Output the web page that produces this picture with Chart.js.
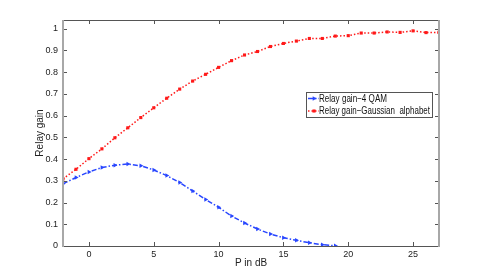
<!DOCTYPE html>
<html>
<head>
<meta charset="utf-8">
<script src="https://cdn.jsdelivr.net/npm/chart.js@4/dist/chart.umd.min.js"></script>
<style>
  body { margin: 0; background: #fff; }
  canvas { display: block; }
</style>
</head>
<body>
<canvas id="relayChart" width="485" height="277"></canvas>
<script>
// P in dB (x positions of the samples)
const pValues = [-2, -1, 0, 1, 2, 3, 4, 5, 6, 7, 8, 9, 10, 11, 12, 13, 14, 15, 16, 17, 18, 19, 20, 21, 22, 23, 24, 25, 26, 27];
// relay gain, 4 QAM (from -2 to 19 dB)
const qamGain = [0.286, 0.315, 0.341, 0.361, 0.372, 0.377, 0.369, 0.350, 0.324, 0.292, 0.253, 0.214, 0.178, 0.138, 0.106, 0.078, 0.055, 0.038, 0.026, 0.015, 0.006, 0.001];
// relay gain, Gaussian alphabet
const gaussGain = [0.309, 0.353, 0.402, 0.447, 0.498, 0.544, 0.591, 0.636, 0.680, 0.722, 0.759, 0.790, 0.822, 0.853, 0.879, 0.895, 0.918, 0.932, 0.943, 0.955, 0.955, 0.966, 0.968, 0.980, 0.980, 0.985, 0.983, 0.990, 0.982, 0.983];
const seriesNames = ["Relay gain\u22124 QAM", "Relay gain\u2212Gaussian  alphabet"];
const xTicks = [0, 5, 10, 15, 20, 25];
const yTicks = [0, 0.1, 0.2, 0.3, 0.4, 0.5, 0.6, 0.7, 0.8, 0.9, 1];

const FONT = "'Liberation Sans', Arial, sans-serif";
const BLUE = "rgb(40,70,255)";
const RED = "rgb(255,25,25)";

const toPoints = (ys) => ys.map((y, i) => ({ x: pValues[i], y: y }));

// frame + inward tick marks, matlab style
const framePlugin = {
  id: "frame",
  afterDatasetsDraw(chart) {
    const { ctx, chartArea: a, scales } = chart;
    ctx.save();
    ctx.strokeStyle = "#555";
    ctx.lineWidth = 1;
    ctx.beginPath();
    xTicks.forEach((v) => {
      const px = Math.round(scales.x.getPixelForValue(v)) + 0.5;
      ctx.moveTo(px, a.bottom); ctx.lineTo(px, a.bottom - 4);
      ctx.moveTo(px, a.top); ctx.lineTo(px, a.top + 4);
    });
    yTicks.forEach((v) => {
      const py = Math.round(scales.y.getPixelForValue(v)) + 0.5;
      ctx.moveTo(a.left, py); ctx.lineTo(a.left + 4, py);
      ctx.moveTo(a.right, py); ctx.lineTo(a.right - 4, py);
    });
    ctx.stroke();
    // top / bottom
    ctx.beginPath();
    ctx.moveTo(a.left, a.top + 0.5); ctx.lineTo(a.right, a.top + 0.5);
    ctx.moveTo(a.left, a.bottom + 0.5); ctx.lineTo(a.right, a.bottom + 0.5);
    ctx.stroke();
    // left / right are drawn lighter and thicker
    ctx.strokeStyle = "#a8a8a8";
    ctx.lineWidth = 2;
    ctx.beginPath();
    ctx.moveTo(a.left, a.top); ctx.lineTo(a.left, a.bottom + 1);
    ctx.moveTo(a.right, a.top); ctx.lineTo(a.right, a.bottom + 1);
    ctx.stroke();
    ctx.restore();
  },
};

// legend box inside the plot (text squeezed like the original)
const legendPlugin = {
  id: "boxLegend",
  afterDraw(chart) {
    const { ctx } = chart;
    const x0 = 306, y0 = 92, w = 126, h = 25;
    const textW = [68, 111];
    ctx.save();
    ctx.fillStyle = "#fff";
    ctx.fillRect(x0, y0, w, h);
    ctx.strokeStyle = "#555";
    ctx.lineWidth = 1;
    ctx.strokeRect(x0 + 0.5, y0 + 0.5, w, h);
    ctx.font = "10px " + FONT;
    ctx.textBaseline = "middle";
    chart.data.datasets.forEach((ds, i) => {
      const cy = y0 + 6.5 + i * 12.5;
      ctx.strokeStyle = ds.borderColor;
      ctx.lineWidth = 1.5;
      ctx.setLineDash(ds.borderDash);
      ctx.beginPath();
      ctx.moveTo(x0 + 2, cy); ctx.lineTo(x0 + 13, cy);
      ctx.stroke();
      ctx.setLineDash([]);
      ctx.fillStyle = ds.borderColor;
      Chart.helpers.drawPoint(ctx, {
        pointStyle: ds.pointStyle, radius: ds.pointRadius, rotation: ds.pointRotation || 0, borderWidth: 0,
      }, x0 + 8, cy);
      ctx.fillStyle = "#111";
      ctx.fillText(ds.label, x0 + 13, cy + 0.5, textW[i]);
    });
    ctx.restore();
  },
};

new Chart(document.getElementById("relayChart"), {
  type: "line",
  data: {
    datasets: [
      {
        label: seriesNames[0],
        data: toPoints(qamGain),
        borderColor: BLUE,
        backgroundColor: BLUE,
        borderWidth: 1.5,
        borderDash: [5, 2, 1.5, 2],
        pointStyle: "triangle",
        pointRotation: 90,
        pointRadius: 2.6,
        pointBorderWidth: 0,
        tension: 0,
      },
      {
        label: seriesNames[1],
        data: toPoints(gaussGain),
        borderColor: RED,
        backgroundColor: RED,
        borderWidth: 1.5,
        borderDash: [1.5, 2],
        pointStyle: "rect",
        pointRadius: 2.2,
        pointBorderWidth: 0,
        tension: 0,
      },
    ],
  },
  options: {
    responsive: false,
    animation: false,
    devicePixelRatio: 1,
    layout: { padding: { top: 20, right: 46, left: 0, bottom: 0 } },
    plugins: {
      legend: { display: false },
      tooltip: { enabled: false },
    },
    scales: {
      x: {
        type: "linear",
        min: -2,
        max: 27,
        grid: { display: false, drawTicks: false },
        border: { display: false },
        afterBuildTicks: (s) => { s.ticks = xTicks.map((v) => ({ value: v })); },
        afterFit: (s) => { s.height = 31; },
        ticks: { color: "#222", padding: 3, font: { family: FONT, size: 9 }, maxRotation: 0 },
        title: { display: true, text: "P in dB", color: "#222", font: { family: FONT, size: 10 }, padding: { top: 0, bottom: 8 } },
      },
      y: {
        min: 0,
        max: 1.04,
        grid: { display: false, drawTicks: false },
        border: { display: false },
        afterBuildTicks: (s) => { s.ticks = yTicks.map((v) => ({ value: v })); },
        afterFit: (s) => { s.width = 63; },
        ticks: { color: "#222", padding: 5, font: { family: FONT, size: 9 }, callback: (v) => String(v) },
        title: { display: true, text: "Relay gain", color: "#222", font: { family: FONT, size: 10 }, padding: { top: 34, bottom: 0 } },
      },
    },
  },
  plugins: [framePlugin, legendPlugin],
});
</script>
</body>
</html>
